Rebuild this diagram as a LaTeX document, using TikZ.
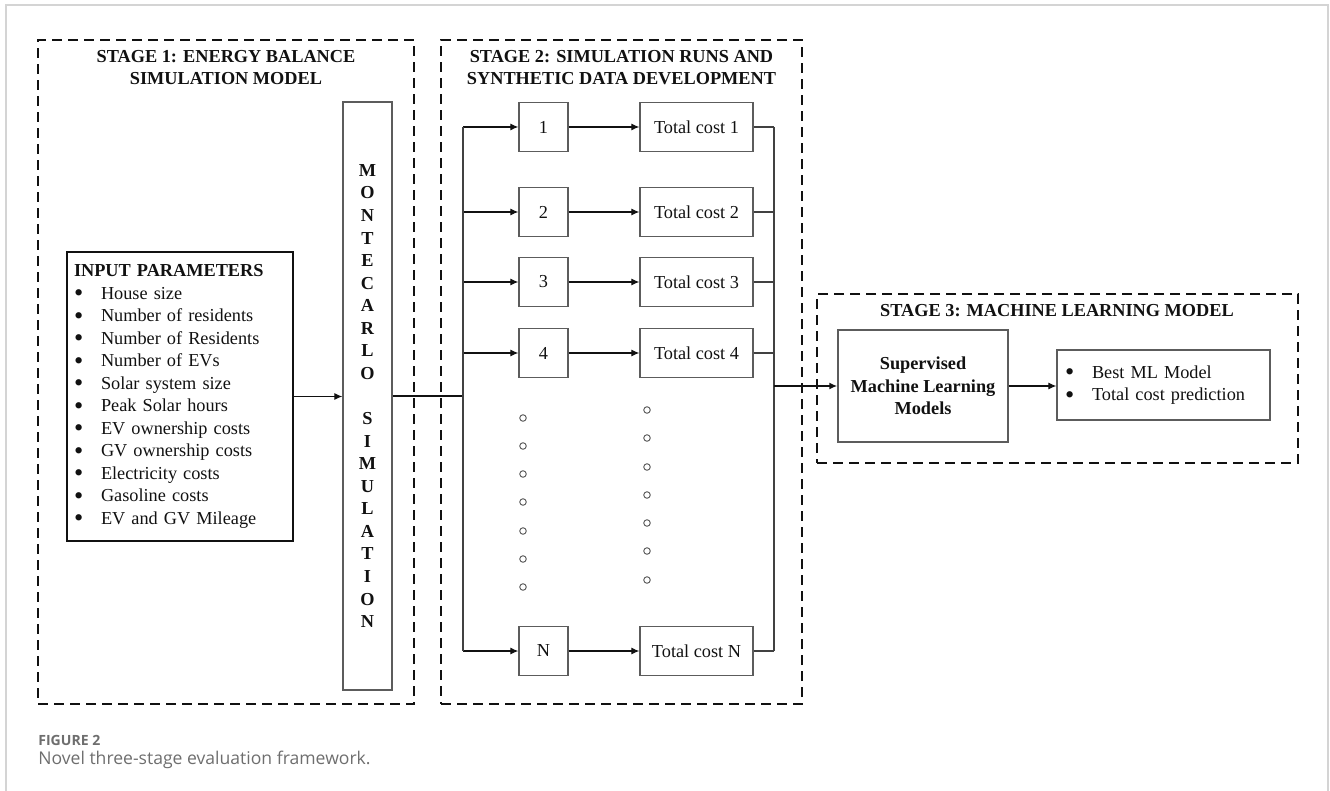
\documentclass[tikz,border=0pt]{standalone}
\usepackage{fontspec}
\setmainfont{Liberation Serif}
\newfontfamily\capfont{Open Sans}
\usepackage{tikz}
\usetikzlibrary{arrows.meta, positioning, fit, calc}
\definecolor{Ink}{HTML}{111111}
\definecolor{Edge}{HTML}{5C5C5C}
\definecolor{Frame}{HTML}{D4D4D4}
\definecolor{Caption}{HTML}{6E6E6E}
\newcommand{\bul}{\makebox[5.4mm][l]{\raisebox{-1.4pt}{\fontsize{15}{15}\selectfont\textbullet}}}

\begin{document}
\begin{tikzpicture}[
  x=0.2mm, y=-0.2mm,
  font=\fontsize{10.4}{12.8}\selectfont,
  stage/.style={draw=Ink, line width=1.1pt, dash pattern=on 2mm off 1.2mm, inner sep=0pt},
  title/.style={font=\fontsize{10.4}{12.5}\selectfont\bfseries, align=center, text=Ink},
  box/.style={draw=Edge, line width=0.8pt, align=center, inner sep=0pt, text=Ink},
  runbox/.style={box, minimum width=9.8mm, minimum height=9.8mm},
  costbox/.style={box, minimum width=22.6mm, minimum height=9.8mm},
  arrow/.style={-{Latex[length=1.6mm, width=1.4mm]}, draw=Ink, line width=0.6pt},
  wire/.style={draw=Ink!80, line width=0.6pt},
  dot/.style={draw=Edge, line width=0.55pt}
]
\useasboundingbox (0,0) rectangle (1330,791);
\draw[Frame, line width=0.8pt] (6,791) -- (6,5) -- (1328,5) -- (1328,791);

% stage frames and titles
\node[stage, fit={(38,40) (414,704)}] (stage1) {};
\node[stage, fit={(441,40) (802,704)}] (stage2) {};
\node[stage, fit={(817,294) (1298,463)}] (stage3) {};
\node[title] (title1) at (226,68) {STAGE 1: ENERGY BALANCE\\SIMULATION MODEL};
\node[title] (title2) at (621.5,68) {STAGE 2: SIMULATION RUNS AND\\SYNTHETIC DATA DEVELOPMENT};
\node[title] (title3) at (1057,311) {STAGE 3: MACHINE LEARNING MODEL};

% stage 1
\node[box, draw=Ink, minimum height=57.8mm, text width=42.4mm, inner xsep=1.4mm, align=left] (inputs) at (180,396.5) {%
  \textbf{INPUT PARAMETERS}\\
  \bul House size\\
  \bul Number of residents\\
  \bul Number of Residents\\
  \bul Number of EVs\\
  \bul Solar system size\\
  \bul Peak Solar hours\\
  \bul EV ownership costs\\
  \bul GV ownership costs\\
  \bul Electricity costs\\
  \bul Gasoline costs\\
  \bul EV and GV Mileage};
\node[box, minimum width=9.8mm, minimum height=117.6mm, font=\fontsize{10.4}{12.84}\selectfont\bfseries] (mc) at (367.5,396) {M\\O\\N\\T\\E\\C\\A\\R\\L\\O\\[12.84pt]S\\I\\M\\U\\L\\A\\T\\I\\O\\N};
\draw[arrow] (inputs.east) -- (inputs.east -| mc.west);

% stage 2
\coordinate (trunk) at (463,396);
\draw[wire, draw=Ink, line width=0.9pt] (mc.east |- trunk) -- (trunk);
\foreach \k/\y in {1/127, 2/212, 3/282, 4/353, N/651}{
  \node[runbox] (run\k) at (543.5,\y) {\k};
  \node[costbox] (cost\k) at (696.5,\y) {Total cost \k};
  \coordinate (in\k) at (463,\y);
  \coordinate (out\k) at (774,\y);
  \draw[arrow] (in\k) -- (run\k);
  \draw[arrow] (run\k) -- (cost\k);
  \draw[wire] (cost\k) -- (out\k);
}
\draw[wire] (in1) -- (inN);
\draw[wire] (out1) -- (outN);
\foreach \y in {418,446,474,502,531,559,587}
  \draw[dot] (523,\y) circle (0.65mm);
\foreach \y in {410,438,467,495,523,551,580}
  \draw[dot] (647,\y) circle (0.65mm);

% stage 3
\node[box, minimum width=34mm, minimum height=22.4mm, font=\fontsize{10.4}{12.8}\selectfont\bfseries] (sup) at (923,386) {Supervised\\Machine Learning\\Models};
\node[box, minimum height=14mm, text width=39.4mm, inner xsep=1.6mm, align=left] (best) at (1163.5,385) {%
  \bul Best ML Model\\
  \bul Total cost prediction};
\coordinate (merge) at (774,386);
\draw[arrow, line width=1pt] (merge) -- (sup.west);
\draw[arrow] (sup.east) -- (sup.east -| best.west);

% caption
\node[anchor=base west, inner sep=0pt, text=Caption, font=\capfont\fontsize{8}{9}\selectfont\bfseries] (figlabel) at (38,745) {FIGURE 2};
\node[anchor=base west, inner sep=0pt, text=Caption, font=\capfont\fontsize{10}{12}\selectfont] (figtext) at (38,764) {Novel three-stage evaluation framework.};
\end{tikzpicture}
\end{document}
